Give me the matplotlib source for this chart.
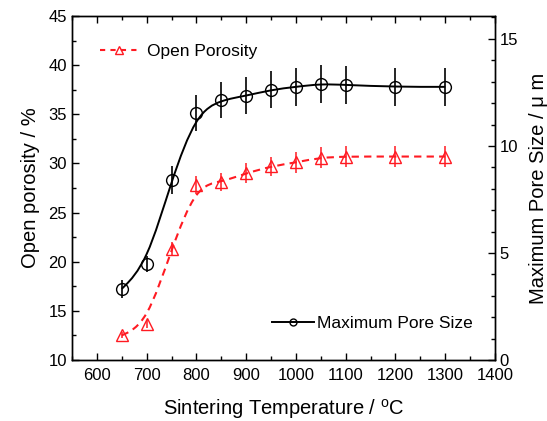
import numpy as np
import matplotlib.pyplot as plt
from matplotlib.path import Path
from matplotlib.patches import PathPatch
from matplotlib.ticker import MultipleLocator
from matplotlib.lines import Line2D

plt.rcParams['font.family'] = ['Liberation Sans', 'DejaVu Sans']
plt.rcParams['mathtext.fontset'] = 'custom'
plt.rcParams['mathtext.rm'] = 'Liberation Sans'

# Data
temperature = [650, 700, 750, 800, 850, 900, 950, 1000, 1050, 1100, 1200, 1300]
open_porosity = [12.5, 13.7, 21.3, 27.8, 28.1, 29.0, 29.7, 30.1, 30.6, 30.7, 30.7, 30.7]
porosity_err = [0.3, 0.4, 0.7, 0.9, 0.9, 1.0, 1.0, 1.1, 1.1, 1.1, 1.1, 1.1]
pore_size = [3.32, 4.49, 8.41, 11.54, 12.15, 12.34, 12.62, 12.76, 12.90, 12.85, 12.76, 12.76]
pore_err = [0.44, 0.37, 0.67, 0.82, 0.86, 0.86, 0.87, 0.9, 0.9, 0.9, 0.9, 0.9]


def bspline_path(x, y):
    """Clamped uniform cubic B-spline using the points as control points"""
    p = np.column_stack([x, y]).astype(float)
    p = np.vstack([p[:1], p[:1], p, p[-1:], p[-1:]])
    verts = []
    codes = []
    for i in range(1, len(p) - 2):
        b0 = (p[i - 1] + 4 * p[i] + p[i + 1]) / 6
        b1 = (2 * p[i] + p[i + 1]) / 3
        b2 = (p[i] + 2 * p[i + 1]) / 3
        b3 = (p[i] + 4 * p[i + 1] + p[i + 2]) / 6
        if not verts:
            verts.append(tuple(b0))
            codes.append(Path.MOVETO)
        verts += [tuple(b1), tuple(b2), tuple(b3)]
        codes += [Path.CURVE4] * 3
    return Path(verts, codes)


fig = plt.figure(figsize=(5.47, 4.21), dpi=100)
ax = fig.add_axes([0.1316, 0.1449, 0.7733, 0.8171])
ax2 = ax.twinx()

red = '#ff1a22'
dash = (0, (3.5, 2.5))
ax.errorbar(temperature, open_porosity, yerr=porosity_err, fmt='^', color=red,
            mfc='none', ms=8, mew=1.0, elinewidth=1.1, capsize=0, zorder=3)
ax.add_patch(PathPatch(bspline_path(temperature, open_porosity), fill=False,
                       edgecolor=red, lw=1.5, linestyle=dash, zorder=2))

ax2.errorbar(temperature, pore_size, yerr=pore_err, fmt='o', color='black',
             mfc='none', ms=8.5, mew=1.0, elinewidth=1.2, capsize=0, zorder=3)
ax2.add_patch(PathPatch(bspline_path(temperature, pore_size), fill=False,
                        edgecolor='black', lw=1.4, zorder=2))

ax.set_xlim(550, 1400)
ax.set_ylim(10, 45)
ax2.set_ylim(0, 16.07)

ax.xaxis.set_major_locator(MultipleLocator(100))
ax.xaxis.set_minor_locator(MultipleLocator(50))
ax.yaxis.set_major_locator(MultipleLocator(5))
ax.yaxis.set_minor_locator(MultipleLocator(2.5))
ax2.yaxis.set_major_locator(MultipleLocator(5))
ax2.yaxis.set_minor_locator(MultipleLocator(1))

ax.tick_params(which='both', direction='in', top=True, labelsize=12, width=1)
ax.tick_params(which='major', length=5)
ax.tick_params(which='minor', length=3)
ax.tick_params(axis='x', pad=6)
ax2.tick_params(which='both', direction='in', labelsize=12, width=1)
ax2.tick_params(which='major', length=5)
ax2.tick_params(which='minor', length=3)

ax.set_xlabel('Sintering Temperature / $^{\\mathrm{o}}$C', fontsize=14.5, labelpad=10)
ax.set_ylabel('Open porosity / %', fontsize=14.5, labelpad=6)
ax2.set_ylabel('Maximum Pore Size / \u03bc m', fontsize=14.5, labelpad=8)

h1 = Line2D([], [], color=red, ls=(0, (2.5, 2.5)), lw=1.5, marker='^', mfc='none', ms=6, mew=1)
ax.legend([h1], ['Open Porosity'], loc='upper left', bbox_to_anchor=(0.03, 0.965),
          frameon=False, fontsize=12.5, handlelength=2.1, handletextpad=0.6)
h2 = Line2D([], [], color='black', lw=1.4, marker='o', mfc='none', ms=5, mew=1)
ax2.legend([h2], ['Maximum Pore Size'], loc='lower right', bbox_to_anchor=(0.985, 0.04),
           frameon=False, fontsize=12.5, handlelength=2.4, handletextpad=0.2)

for a in (ax, ax2):
    for s in a.spines.values():
        s.set_linewidth(1.0)

fig.savefig('out.png', dpi=100)
